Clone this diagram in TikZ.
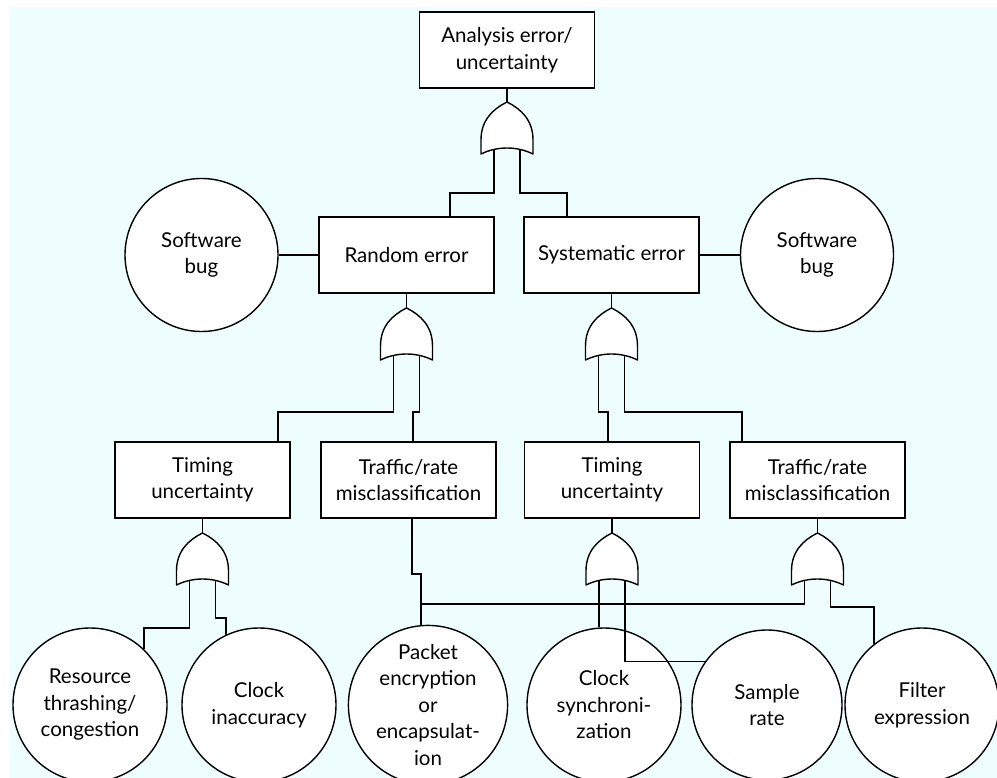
\documentclass[tikz,border=0pt]{standalone}
\usepackage{fontspec}
\setmainfont{Lato}
\definecolor{paper}{RGB}{238,254,254}
\begin{document}
\begin{tikzpicture}[x=1pt,y=-1pt,line width=1.4pt,
  font=\fontsize{20.5}{26.5}\selectfont,
  box/.style={draw,fill=white,minimum width=175pt,minimum height=76pt,inner sep=0pt,align=center},
  event/.style={draw,fill=white,circle,minimum size=154pt,inner sep=0pt,align=center},
  wire/.style={line width=1.4pt,line join=miter},
  orgate/.pic={
    \path[draw,fill=white,line join=round]
      (0,0) .. controls (-14,7) and (-26,18) .. (-26,38) -- (-26,52)
      .. controls (-10,44) and (10,44) .. (26,52) -- (26,38)
      .. controls (26,18) and (14,7) .. cycle;
    \coordinate (-top) at (0,0);
    \coordinate (-in1) at (-13,47.4);
    \coordinate (-in2) at (13,47.4);
  }]
\useasboundingbox (0,0) rectangle (997,778);
\fill[paper] (10,7) rectangle (997,778);

% events and fault boxes
\node[box] (top) at (507,50) {Analysis error/\\uncertainty};
\node[box] (rnd) at (406.5,255) {Random error};
\node[box] (sys) at (611.5,255) {Systematic error};
\node[event,minimum size=153pt] (sbl) at (201.5,255) {Software\\bug};
\node[event,minimum size=153pt] (sbr) at (817,255) {Software\\bug};
\node[box] (tl)  at (202.5,480) {Timing\\uncertainty};
\node[box] (trl) at (408.5,480) {Traffic/rate\\misclassification};
\node[box] (tr)  at (612,480)   {Timing\\uncertainty};
\node[box] (trr) at (817.5,480) {Traffic/rate\\misclassification};
\node[event] (res) at (90,705)  {Resource\\thrashing/\\congestion};
\node[event] (cin) at (259,705) {Clock\\inaccuracy};
\node[event] (pkt) at (428,705) {Packet\\encryption\\or\\encapsulat-\\ion};
\node[event] (csy) at (604,705) {Clock\\synchroni-\\zation};
\node[event,minimum size=150pt] (smp) at (767,705) {Sample\\rate};
\node[event] (flt) at (922,705) {Filter\\expression};

% OR gates
\pic (g1) at (507,102) {orgate};
\pic (g2) at (406.5,308) {orgate};
\pic (g3) at (611.5,308) {orgate};
\pic (g4) at (202.5,533) {orgate};
\pic (g5) at (612,533) {orgate};
\pic (g6) at (817.5,533) {orgate};

% connectors
\draw[wire] (top.south) -- (g1-top);
\draw[wire] (g1-in1) |- (450,193) -- (rnd.north -| 450,0);
\draw[wire] (g1-in2) |- (567,193) -- (sys.north -| 567,0);

\draw[wire] (sbl.east) -- (rnd.west);
\draw[wire] (sys.east) -- (sbr.west);

\draw[wire] (rnd.south) -- (g2-top);
\draw[wire] (g2-in1) |- (278,412) -- (tl.north -| 278,0);
\draw[wire] (g2-in2) |- (413,412) -- (trl.north -| 413,0);

\draw[wire] (sys.south) -- (g3-top);
\draw[wire] (g3-in1) |- (608,412) -- (tr.north -| 608,0);
\draw[wire] (g3-in2) |- (742,412) -- (trr.north -| 742,0);

\draw[wire] (tl.south) -- (g4-top);
\draw[wire] (g4-in1) |- (res.46 |- 0,628) -- (res.46);
\draw[wire] (g4-in2) |- (cin.115 |- 0,618) -- (cin.115);

\draw[wire] (trl.south -| 412,0) |- (pkt.95 |- 0,574) -- (pkt.95);

\draw[wire] (tr.south) -- (g5-top);
\draw[wire] (g5-in1) -- (g5-in1 |- csy.north);
\draw[wire] (g5-in2) |- (smp.145);

\draw[wire] (trr.south) -- (g6-top);
\draw[wire] (g6-in1) |- (pkt.95 |- 0,604);
\draw[wire] (g6-in2) |- (flt.128 |- 0,607) -- (flt.128);
\end{tikzpicture}
\end{document}
